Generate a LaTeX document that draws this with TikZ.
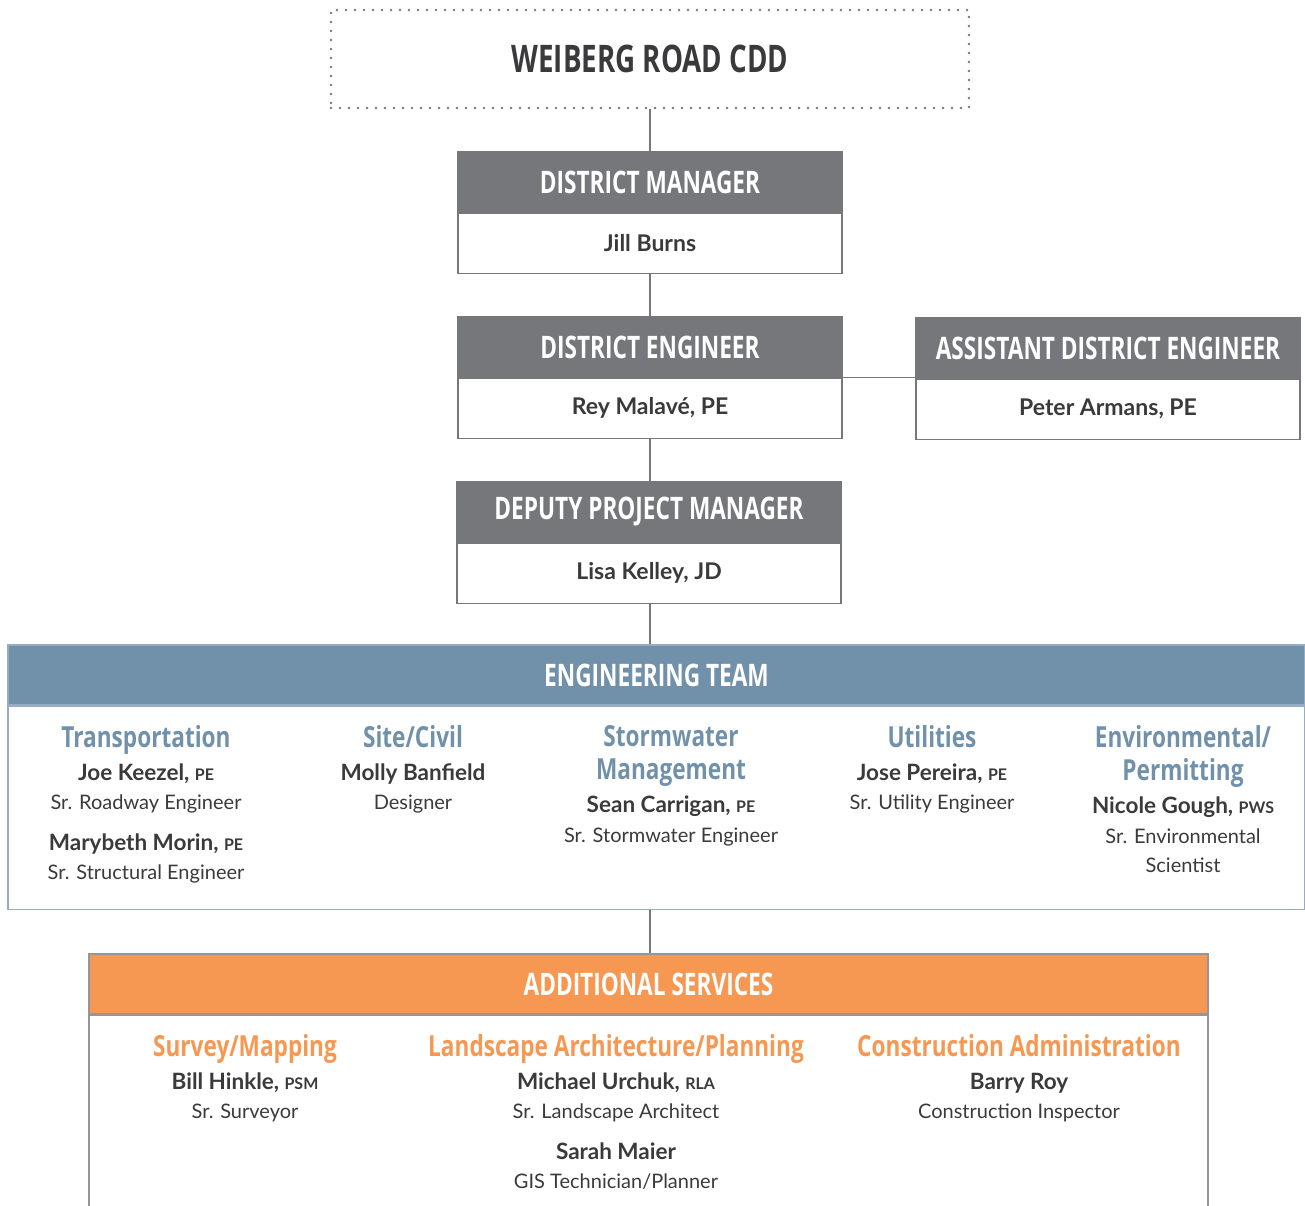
\documentclass[tikz,border=0pt]{standalone}
\usepackage{fontspec}
\setmainfont{Lato}
\newfontfamily\condfont[FakeStretch=0.73]{Open Sans}
\newfontfamily\grpfont[FakeStretch=0.78]{Open Sans}
\usetikzlibrary{positioning}
\definecolor{cGray}{RGB}{118,119,123}
\definecolor{cInk}{RGB}{58,58,60}
\definecolor{cSteel}{RGB}{113,145,170}
\definecolor{cSteelLine}{RGB}{150,172,195}
\definecolor{cOrange}{RGB}{246,152,82}
\definecolor{cFrame}{RGB}{150,150,152}
\newcommand{\headtype}{\condfont\bfseries}
\newcommand{\teamhead}[1]{{\color{cSteel}\grpfont\bfseries\fontsize{29}{30}\selectfont #1}}
\newcommand{\servhead}[1]{{\color{cOrange}\grpfont\bfseries\fontsize{29}{30}\selectfont #1}}
\newcommand{\who}[2]{{\bfseries\fontsize{22.5}{30}\selectfont #1\ifx&#2&\else, {\fontsize{16}{16}\selectfont #2}\fi}}
\tikzset{
	cddbox/.style  ={rectangle, draw=cGray, line width=2.6pt, dash pattern=on 0pt off 9pt, line cap=round, minimum width=638pt, minimum height=98pt, text=cInk, font=\headtype\fontsize{38}{40}\selectfont},
	hdr/.style     ={rectangle, fill=cGray, draw=cGray, line width=1.2pt, minimum width=384pt, minimum height=60pt, inner sep=0pt, text=white, font=\headtype\fontsize{31}{34}\selectfont},
	namebox/.style ={rectangle, fill=white, draw=cGray, line width=1.2pt, minimum width=384pt, minimum height=60pt, inner sep=0pt, text=cInk, font=\bfseries\fontsize{23}{26}\selectfont},
	teamhdr/.style ={rectangle, fill=cSteel, draw=cSteelLine, line width=1.2pt, minimum width=1297pt, minimum height=60pt, inner sep=0pt, text=white, font=\headtype\fontsize{31}{34}\selectfont},
	teambody/.style={rectangle, draw=cSteelLine, line width=1.2pt, minimum width=1297pt, minimum height=203pt, inner sep=0pt},
	servhdr/.style ={rectangle, fill=cOrange, draw=cFrame, line width=1.2pt, minimum width=1119pt, minimum height=60pt, inner sep=0pt, text=white, font=\headtype\fontsize{31}{34}\selectfont},
	servbody/.style={rectangle, draw=cFrame, line width=1.2pt, minimum width=1119pt, minimum height=240pt, inner sep=0pt},
	col/.style     ={anchor=north, align=center, inner sep=0pt, text=cInk, font=\fontsize{20}{29.5}\selectfont},
	link/.style    ={draw=cGray, line width=1.2pt},
}
\begin{document}
\begin{tikzpicture}[x=1pt, y=-1pt]
\path[use as bounding box, clip] (0,0) rectangle (1305,1205);

% chain of command
\node[cddbox] (cdd) at (650,59) {WEIBERG ROAD CDD};
\node[hdr] (dmHead) at (650,182) {DISTRICT MANAGER};
\node[namebox, below=0pt of dmHead] (dmName) {Jill Burns};
\node[hdr] (deHead) at (650,347) {DISTRICT ENGINEER};
\node[namebox, below=0pt of deHead] (deName) {Rey Malavé, PE};
\node[hdr] (adeHead) at (1108,348) {ASSISTANT DISTRICT ENGINEER};
\node[namebox, below=0pt of adeHead] (adeName) {Peter Armans, PE};
\node[hdr] (dpmHead) at (649,512) {DEPUTY PROJECT MANAGER};
\node[namebox, below=0pt of dpmHead] (dpmName) {Lisa Kelley, JD};

% engineering team
\node[teamhdr] (engHead) at (656.5,675) {ENGINEERING TEAM};
\node[teambody, below=0pt of engHead] (engBody) {};
\node[col] (trans) at (146,725) {\teamhead{Transportation}\\[3.5pt]
	\who{Joe Keezel}{PE}\\
	Sr. Roadway Engineer\\[11pt]
	\who{Marybeth Morin}{PE}\\
	Sr. Structural Engineer};
\node[col] (civil) at (413,725) {\teamhead{Site/Civil}\\[3.5pt]
	\who{Molly Banfield}{}\\
	Designer};
\node[col] (storm) at (671,725) {\teamhead{Stormwater}\\[4pt]
	\teamhead{Management}\\[3.5pt]
	\who{Sean Carrigan}{PE}\\
	Sr. Stormwater Engineer};
\node[col] (util) at (932,725) {\teamhead{Utilities}\\[3.5pt]
	\who{Jose Pereira}{PE}\\
	Sr. Utility Engineer};
\node[col] (env) at (1183,725) {\teamhead{Environmental/}\\[4pt]
	\teamhead{Permitting}\\[3.5pt]
	\who{Nicole Gough}{PWS}\\
	Sr. Environmental\\
	Scientist};

% additional services
\node[servhdr] (addHead) at (648.5,984) {ADDITIONAL SERVICES};
\node[servbody, below=0pt of addHead] (addBody) {};
\node[col] (survey) at (245,1034) {\servhead{Survey/Mapping}\\[3.5pt]
	\who{Bill Hinkle}{PSM}\\
	Sr. Surveyor};
\node[col] (land) at (616,1034) {\servhead{Landscape Architecture/Planning}\\[3.5pt]
	\who{Michael Urchuk}{RLA}\\
	Sr. Landscape Architect\\[11pt]
	\who{Sarah Maier}{}\\
	GIS Technician/Planner};
\node[col] (constr) at (1019,1034) {\servhead{Construction Administration}\\[3.5pt]
	\who{Barry Roy}{}\\
	Construction Inspector};

% connectors
\draw[link] (cdd.south) -- (dmHead.north);
\draw[link] (dmName.south) -- (deHead.north);
\draw[link] (deName.south) -- (dpmHead.north -| deName.south);
\draw[link] (deHead.south east) -- (adeHead.south west |- deHead.south east);
\draw[link] (dpmName.south -| deName.south) -- (engHead.north -| deName.south);
\draw[link] (engBody.south -| deName.south) -- (addHead.north -| deName.south);
\end{tikzpicture}
\end{document}
